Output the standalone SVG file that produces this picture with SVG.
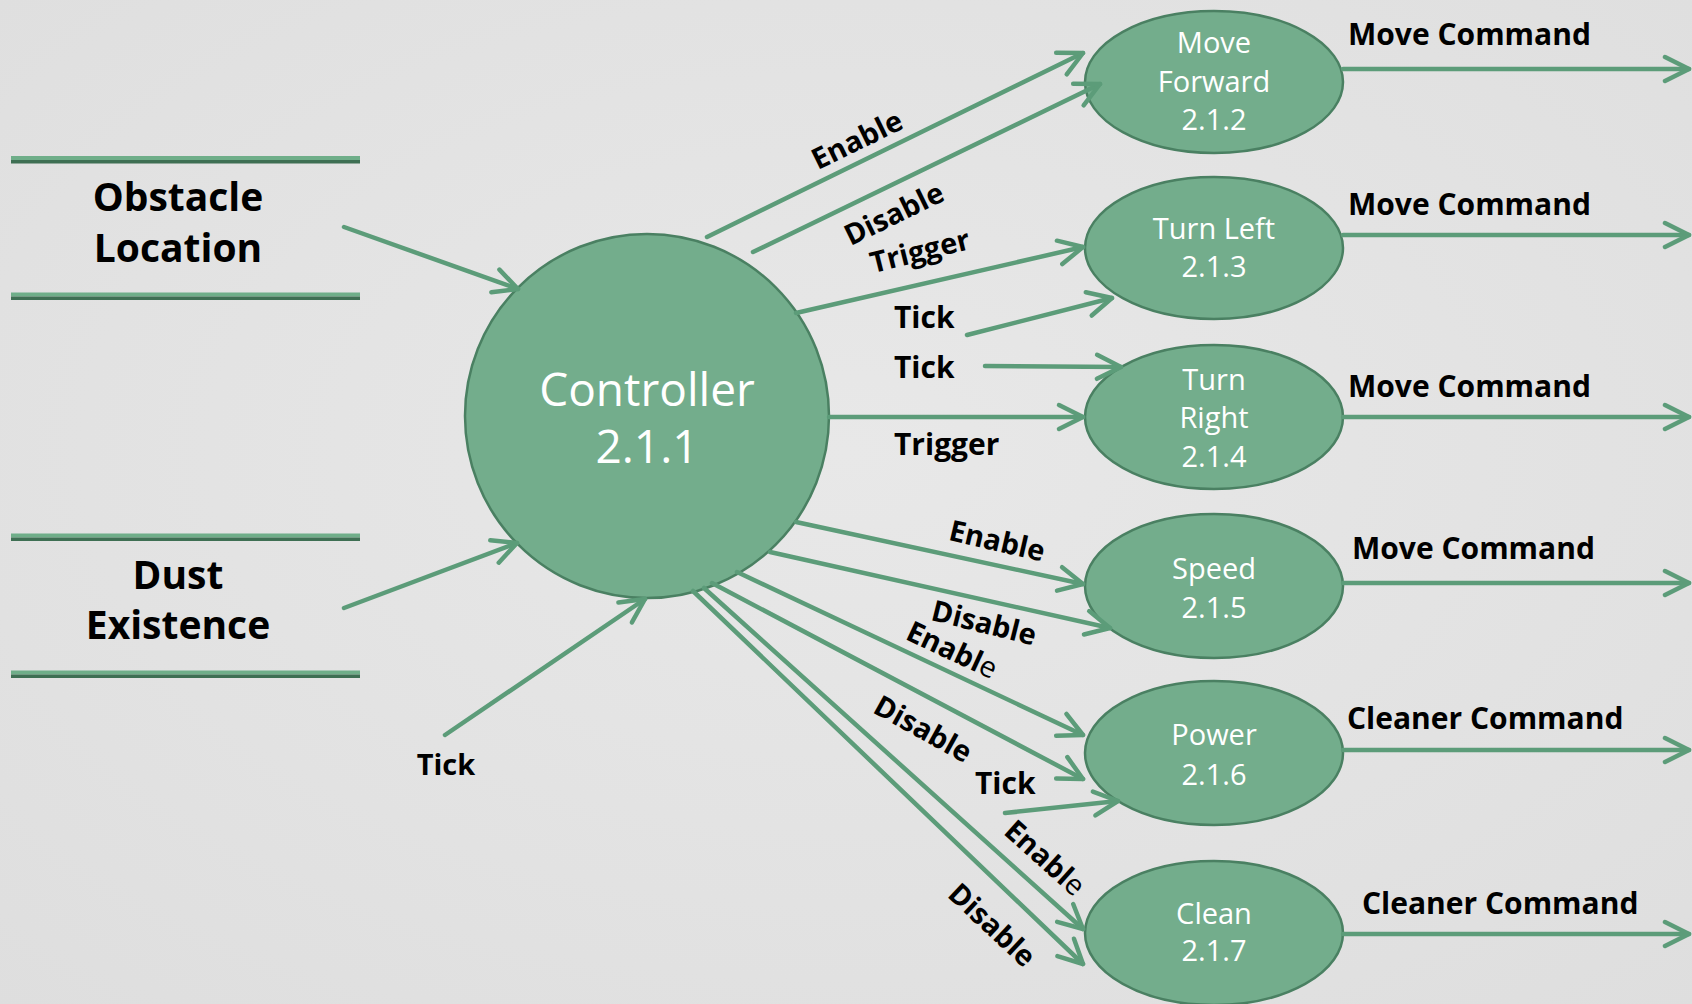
<svg xmlns="http://www.w3.org/2000/svg" width="1692" height="1004" viewBox="0 0 1692 1004">
<defs>
<radialGradient id="bg" cx="50%" cy="45%" r="75%">
<stop offset="0" stop-color="#e8e8e8"/>
<stop offset="1" stop-color="#dedede"/>
</radialGradient>
<marker id="ah" markerUnits="userSpaceOnUse" markerWidth="40" markerHeight="40" viewBox="-30 -20 40 40" refX="0" refY="0" orient="auto">
<path d="M-24,-12 L0,0 L-24,12" fill="none" stroke="#5c9c79" stroke-width="4.5" stroke-linecap="round" stroke-linejoin="round"/>
</marker>
<style>
.proc{fill:#73ad8c;stroke:#4a8062;stroke-width:2.5}
.ptxt{font-family:"Open Sans","Noto Sans",sans-serif;fill:#ffffff;text-anchor:middle}
.lbl{font-family:"Open Sans","Noto Sans",sans-serif;font-weight:bold;fill:#000000}
.c{text-anchor:middle}
.flow{fill:none;stroke:#5c9c79;stroke-width:4.5;stroke-linecap:round;marker-end:url(#ah)}
.slight{fill:#6fae89}
.sdark{fill:#3e6f53}
</style>
</defs>
<rect width="1692" height="1004" fill="url(#bg)"/>

<g id="store-obstacle">
<rect class="slight" x="11" y="156" width="349" height="4"/>
<rect class="sdark" x="11" y="160" width="349" height="3.5"/>
<rect class="slight" x="11" y="292.5" width="349" height="4"/>
<rect class="sdark" x="11" y="296.5" width="349" height="3.5"/>
<text class="lbl c" x="178" y="211" font-size="39">Obstacle</text>
<text class="lbl c" x="178" y="262" font-size="39">Location</text>
</g>

<g id="store-dust">
<rect class="slight" x="11" y="533.5" width="349" height="4"/>
<rect class="sdark" x="11" y="537.5" width="349" height="3.5"/>
<rect class="slight" x="11" y="670.5" width="349" height="4"/>
<rect class="sdark" x="11" y="674.5" width="349" height="3.5"/>
<text class="lbl c" x="178" y="589" font-size="39">Dust</text>
<text class="lbl c" x="178" y="639" font-size="39">Existence</text>
</g>

<g id="controller">
<circle class="proc" cx="647" cy="416" r="182"/>
<text class="ptxt" x="647" y="406" font-size="46">Controller</text>
<text class="ptxt" x="647" y="463" font-size="46">2.1.1</text>
</g>

<g id="move-forward">
<ellipse class="proc" cx="1214" cy="82" rx="129" ry="71"/>
<text class="ptxt" x="1214" y="53" font-size="29">Move</text>
<text class="ptxt" x="1214" y="92" font-size="29">Forward</text>
<text class="ptxt" x="1214" y="130" font-size="29">2.1.2</text>
</g>

<g id="turn-left">
<ellipse class="proc" cx="1214" cy="248" rx="129" ry="71"/>
<text class="ptxt" x="1214" y="239" font-size="29">Turn Left</text>
<text class="ptxt" x="1214" y="277" font-size="29">2.1.3</text>
</g>

<g id="turn-right">
<ellipse class="proc" cx="1214" cy="417" rx="129" ry="72"/>
<text class="ptxt" x="1214" y="390" font-size="29">Turn</text>
<text class="ptxt" x="1214" y="428" font-size="29">Right</text>
<text class="ptxt" x="1214" y="467" font-size="29">2.1.4</text>
</g>

<g id="speed">
<ellipse class="proc" cx="1214" cy="586" rx="129" ry="72"/>
<text class="ptxt" x="1214" y="579" font-size="29">Speed</text>
<text class="ptxt" x="1214" y="618" font-size="29">2.1.5</text>
</g>

<g id="power">
<ellipse class="proc" cx="1214" cy="753" rx="129" ry="72"/>
<text class="ptxt" x="1214" y="745" font-size="29">Power</text>
<text class="ptxt" x="1214" y="785" font-size="29">2.1.6</text>
</g>

<g id="clean">
<ellipse class="proc" cx="1214" cy="933" rx="129" ry="72"/>
<text class="ptxt" x="1214" y="924" font-size="29">Clean</text>
<text class="ptxt" x="1214" y="961" font-size="29">2.1.7</text>
</g>

<g id="connectors">
<line class="flow" x1="344" y1="227" x2="518" y2="289"/>
<line class="flow" x1="344" y1="608" x2="517" y2="543"/>
<line class="flow" x1="445" y1="735" x2="645" y2="599"/>
<line class="flow" x1="707" y1="237" x2="1083" y2="53"/>
<line class="flow" x1="753" y1="252" x2="1100" y2="84"/>
<line class="flow" x1="796" y1="313" x2="1083" y2="247"/>
<line class="flow" x1="967" y1="335" x2="1112" y2="298"/>
<line class="flow" x1="985" y1="366" x2="1121" y2="367"/>
<line class="flow" x1="829" y1="417" x2="1083" y2="417"/>
<line class="flow" x1="796" y1="522" x2="1083" y2="584"/>
<line class="flow" x1="770" y1="552" x2="1110" y2="628"/>
<line class="flow" x1="737" y1="572" x2="1083" y2="735"/>
<line class="flow" x1="712" y1="583" x2="1083" y2="779"/>
<line class="flow" x1="1005" y1="813" x2="1118" y2="801"/>
<line class="flow" x1="704" y1="588" x2="1083" y2="929"/>
<line class="flow" x1="693" y1="591" x2="1083" y2="964"/>
<line class="flow" x1="1343" y1="69" x2="1689" y2="69"/>
<line class="flow" x1="1343" y1="235" x2="1689" y2="235"/>
<line class="flow" x1="1343" y1="417" x2="1689" y2="417"/>
<line class="flow" x1="1343" y1="583" x2="1689" y2="583"/>
<line class="flow" x1="1343" y1="750" x2="1689" y2="750"/>
<line class="flow" x1="1343" y1="934" x2="1689" y2="934"/>

<text class="lbl c" font-size="29" transform="translate(857,140) rotate(-26)" y="10">Enable</text>
<text class="lbl c" font-size="29" transform="translate(894,214) rotate(-26)" y="10">Disable</text>
<text class="lbl c" font-size="29" transform="translate(921,255) rotate(-14)" y="6">Trigger</text>
<text class="lbl" font-size="30" x="894" y="328">Tick</text>
<text class="lbl" font-size="30" x="894" y="378">Tick</text>
<text class="lbl" font-size="30" x="894" y="455">Trigger</text>
<text class="lbl c" font-size="29" transform="translate(997,541) rotate(13)" y="10">Enable</text>
<text class="lbl c" font-size="29" transform="translate(984,623) rotate(14)" y="10">Disable</text>
<text class="lbl c" font-size="29" transform="translate(952,650) rotate(25)" y="10">Enabl<tspan font-weight="normal">e</tspan></text>
<text class="lbl c" font-size="29" transform="translate(923,729) rotate(29)" y="10">Disable</text>
<text class="lbl" font-size="30" x="975" y="794">Tick</text>
<text class="lbl c" font-size="29" transform="translate(1045,858) rotate(42)" y="10">Enabl<tspan font-weight="normal">e</tspan></text>
<text class="lbl c" font-size="29" transform="translate(992,925) rotate(43)" y="10">Disable</text>
<text class="lbl c" font-size="29" x="446" y="775">Tick</text>
<text class="lbl" font-size="30" x="1348" y="45">Move Command</text>
<text class="lbl" font-size="30" x="1348" y="215">Move Command</text>
<text class="lbl" font-size="30" x="1348" y="397">Move Command</text>
<text class="lbl" font-size="30" x="1352" y="559">Move Command</text>
<text class="lbl" font-size="30" x="1347" y="729">Cleaner Command</text>
<text class="lbl" font-size="30" x="1362" y="914">Cleaner Command</text>
</g>
</svg>
